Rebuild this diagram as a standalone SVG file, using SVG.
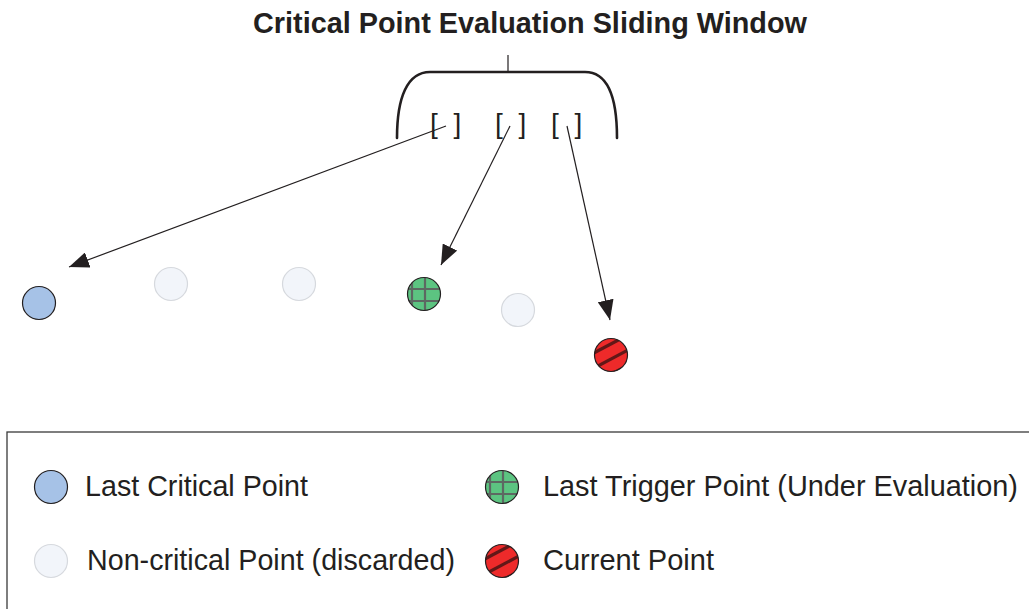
<svg xmlns="http://www.w3.org/2000/svg" xmlns:xlink="http://www.w3.org/1999/xlink" width="1029" height="609" viewBox="0 0 1029 609">
  <style>
    .title { font-family: "Liberation Sans", Arial, sans-serif; font-size: 28.8px; font-weight: bold; fill: #231f20; }
    .label { font-family: "Liberation Sans", Arial, sans-serif; font-size: 28.8px; fill: #231f20; }
    .slot { font-family: "Liberation Sans", Arial, sans-serif; font-size: 28px; fill: #231f20; letter-spacing: 4px; }
    .brace { fill: none; stroke: #231f20; stroke-width: 2.6; stroke-linecap: round; }
    .tick { stroke: #231f20; stroke-width: 1.2; }
    .conn { fill: none; stroke: #231f20; stroke-width: 1.2; }
    .critical { fill: #a6c2e7; stroke: #231f20; stroke-width: 1.2; }
    .discarded { fill: #f2f5fa; stroke: #d6d9de; stroke-width: 1.2; }
    .legend-box { fill: none; stroke: #3a3a3a; stroke-width: 1.3; }
  </style>
  <defs>
    <marker id="arrowHead" markerUnits="userSpaceOnUse" viewBox="0 0 20 16" refX="20" refY="8" markerWidth="20" markerHeight="16" orient="auto">
      <path d="M0,0 L20,8 L0,16 z" fill="#231f20"/>
    </marker>
    <clipPath id="dotClip">
      <circle cx="0" cy="0" r="16.5"/>
    </clipPath>
    <!-- green point with a grid fill -->
    <g id="triggerDot">
      <circle cx="0" cy="0" r="16.5" fill="#5cc481"/>
      <g clip-path="url(#dotClip)" stroke="#5d6862" stroke-width="2.2">
        <line x1="-12" y1="-20" x2="-12" y2="20"/>
        <line x1="1" y1="-20" x2="1" y2="20"/>
        <line x1="-20" y1="-5" x2="20" y2="-5"/>
        <line x1="-20" y1="7" x2="20" y2="7"/>
      </g>
      <circle cx="0" cy="0" r="16.5" fill="none" stroke="#231f20" stroke-width="1.2"/>
    </g>
    <!-- red point with diagonal stripes -->
    <g id="currentDot">
      <circle cx="0" cy="0" r="16.5" fill="#ee2a2a"/>
      <g clip-path="url(#dotClip)" stroke="#4a1414" stroke-width="3.2" stroke-opacity="0.85">
        <line x1="-23" y1="1" x2="13" y2="-18"/>
        <line x1="-17" y1="13" x2="19" y2="-6"/>
        <line x1="-11" y1="25" x2="25" y2="6"/>
      </g>
      <circle cx="0" cy="0" r="16.5" fill="none" stroke="#231f20" stroke-width="1.2"/>
    </g>
  </defs>

  <rect x="0" y="0" width="1029" height="609" fill="#ffffff"/>

  <!-- sliding window header -->
  <g id="window">
    <text class="title" x="253" y="33" textLength="554" lengthAdjust="spacingAndGlyphs">Critical Point Evaluation Sliding Window</text>
    <line class="tick" x1="508" y1="55" x2="508" y2="72"/>
    <path class="brace" d="M397,138 C397,98 407,72 430,72 L585,72 C608,72 617,98 617,138"/>
    <text class="slot" x="430" y="132.5" xml:space="preserve">[ ]</text>
    <text class="slot" x="495" y="132.5" xml:space="preserve">[ ]</text>
    <text class="slot" x="551" y="132.5" xml:space="preserve">[ ]</text>
  </g>

  <!-- connectors from the window slots to the points -->
  <g id="connectors">
    <line class="conn" x1="446" y1="126" x2="69" y2="267" marker-end="url(#arrowHead)"/>
    <line class="conn" x1="510" y1="126" x2="441" y2="265" marker-end="url(#arrowHead)"/>
    <line class="conn" x1="567" y1="126" x2="610" y2="320" marker-end="url(#arrowHead)"/>
  </g>

  <!-- points along the track -->
  <g id="point-last-critical"><circle class="critical" cx="39" cy="303" r="16.5"/></g>
  <g id="point-discarded-1"><circle class="discarded" cx="171" cy="284" r="16.5"/></g>
  <g id="point-discarded-2"><circle class="discarded" cx="299" cy="284" r="16.5"/></g>
  <g id="point-last-trigger"><use xlink:href="#triggerDot" transform="translate(424,294)"/></g>
  <g id="point-discarded-3"><circle class="discarded" cx="518" cy="310" r="16.5"/></g>
  <g id="point-current"><use xlink:href="#currentDot" transform="translate(611,355)"/></g>

  <!-- legend -->
  <g id="legend">
    <rect class="legend-box" x="7" y="432" width="1100" height="300"/>
    <g id="legend-critical">
      <circle class="critical" cx="51" cy="487" r="16.5"/>
      <text class="label" x="85" y="496" textLength="223" lengthAdjust="spacingAndGlyphs">Last Critical Point</text>
    </g>
    <g id="legend-discarded">
      <circle class="discarded" cx="51" cy="561" r="16.5"/>
      <text class="label" x="87" y="570" textLength="368" lengthAdjust="spacingAndGlyphs">Non-critical Point (discarded)</text>
    </g>
    <g id="legend-trigger">
      <use xlink:href="#triggerDot" transform="translate(502,487)"/>
      <text class="label" x="543" y="496" textLength="475" lengthAdjust="spacingAndGlyphs">Last Trigger Point (Under Evaluation)</text>
    </g>
    <g id="legend-current">
      <use xlink:href="#currentDot" transform="translate(502,561)"/>
      <text class="label" x="543" y="570" textLength="171" lengthAdjust="spacingAndGlyphs">Current Point</text>
    </g>
  </g>
</svg>
